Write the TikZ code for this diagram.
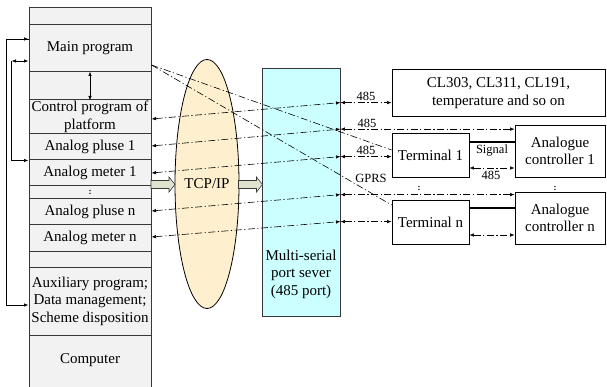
\documentclass[tikz,border=0pt]{standalone}
\usepackage{fontspec}
\setmainfont{Liberation Serif}
\usetikzlibrary{arrows.meta,calc,shapes.geometric}
\definecolor{cellgray}{RGB}{242,242,242}
\definecolor{cellline}{RGB}{55,55,55}
\definecolor{tcpfill}{RGB}{254,240,206}
\definecolor{msfill}{RGB}{204,255,255}
\definecolor{fatfill}{RGB}{221,227,204}
\begin{document}
\begin{tikzpicture}[x=1pt,y=-1pt,
  >={Latex[length=4.5pt,width=3.5pt]},
  every node/.style={font=\fontsize{15}{17.5}\selectfont, inner sep=0pt, align=center},
  cell/.style={draw=cellline, fill=cellgray, line width=1pt, minimum width=122pt},
  rbox/.style={draw=black, line width=0.8pt, fill=white},
  lbl/.style={font=\fontsize{12.5}{14}\selectfont},
  dotmark/.style={font=\fontsize{9}{9}\selectfont\bfseries},
  dd/.style={line width=0.6pt, dash pattern=on 7pt off 2.5pt on 1.2pt off 2.5pt},
  solidarr/.style={line width=0.7pt},
  thickline/.style={line width=2.2pt},
  fatarr/.style={draw=cellline, fill=fatfill, line width=0.6pt}
]
\useasboundingbox (0,0) rectangle (607,387);

% ---- left column ----
\node[cell, minimum height=17pt] (top) at (90,16.5) {};
\node[cell, minimum height=47pt] (main) at (90,48.5) {Main program};
\node[cell, minimum height=28pt] (gapa) at (90,86) {};
\node[cell, minimum height=34pt] (ctrl) at (90,117) {Control program of\\platform};
\node[cell, minimum height=26pt] (p1) at (90,147) {Analog pluse 1};
\node[cell, minimum height=26pt] (m1) at (90,173) {Analog meter 1};
\node[cell, minimum height=13pt, dotmark] (dots) at (90,192.5) {:};
\node[cell, minimum height=26pt] (pn) at (90,212) {Analog pluse n};
\node[cell, minimum height=26pt] (mn) at (90,238) {Analog meter n};
\node[cell, minimum height=16pt] (gapb) at (90,259) {};
\node[cell, minimum height=68pt] (aux) at (90,301) {Auxiliary program;\\Data management;\\Scheme disposition};
\node[cell, minimum height=60pt] (comp) at (90,365) {};
\node (comptext) at (90,360) {Computer};

% vertical double arrow between main and control
\draw[solidarr,<->] (gapa.north) -- (gapa.south);

% feedback loops on the left
\coordinate (oa) at ($(main.west)+(0,-9.5)$);
\coordinate (ob) at ($(aux.west)+(0,4)$);
\draw[solidarr,->] (oa) -- ++(-22,0) |- (ob);
\draw[solidarr,->] (oa) ++(-22,0) -- (oa);
\coordinate (ia) at ($(main.west)+(0,12.5)$);
\coordinate (ic) at ($(ia)+(-17,0)$);
\draw[solidarr,<->] (ic) -- (ia);
\draw[solidarr,->] (ic) |- (p1.south west);

% ---- TCP/IP ellipse ----
\node[ellipse, draw=black, fill=tcpfill, line width=0.8pt, minimum width=64pt, minimum height=249pt] (tcp) at (207,184) {};
\node (tcptext) at (207,183.5) {TCP/IP};

% ---- multi-serial port server ----
\node[draw=cellline, fill=msfill, line width=0.8pt, minimum width=78pt, minimum height=248pt] (ms) at (301,192) {};
\node (mstext) at (301,274) {Multi-serial\\port sever\\(485 port)};

% fat arrows
\coordinate (fa) at (151,184.5);
\coordinate (fb) at (238.5,184.5);
\filldraw[fatarr] (fa) ++(0,-4) -- ++(18,0) -- ++(0,-3.5) -- ++(6,7.5) -- ++(-6,7.5) -- ++(0,-3.5) -- ++(-18,0) -- cycle;
\filldraw[fatarr] (fb) ++(0,-4) -- ++(18,0) -- ++(0,-3.5) -- ++(6,7.5) -- ++(-6,7.5) -- ++(0,-3.5) -- ++(-18,0) -- cycle;

% ---- right boxes ----
\node[rbox, minimum width=213pt, minimum height=47pt] (cl) at (498.5,92.5) {};
\node (cltext) at (498.5,93) {CL303, CL311, CL191,\\temperature and so on};
\node[rbox, minimum width=77pt, minimum height=44pt] (t1) at (430.5,155) {Terminal 1};
\node[rbox, minimum width=90pt, minimum height=52pt] (a1) at (560,151) {Analogue\\controller 1};
\node[rbox, minimum width=77pt, minimum height=44pt] (tn) at (430.5,222) {Terminal n};
\node[rbox, minimum width=90pt, minimum height=52pt] (an) at (560,218) {Analogue\\controller n};

% terminal <-> controller
\draw[thickline] ($(t1.east)+(0,-13)$) -- ($(a1.west)+(0,-9)$);
\node[lbl] (sig) at (492,151) {Signal};
\draw[dd,<->] ($(t1.east)+(0,13)$) -- ($(a1.west)+(0,17)$);
\node[lbl] (l485d) at (491,175) {485};
\draw[thickline] ($(tn.east)+(0,-14)$) -- ($(an.west)+(0,-10)$);
\draw[dd,<->] ($(tn.east)+(0,13)$) -- ($(an.west)+(0,17)$);

% dots
\node[dotmark] (dotsa) at (419,188) {:};
\node[dotmark] (dotsb) at (555,188) {:};

% ---- server right side links ----
\coordinate (s1) at ($(ms.north east)+(0,35)$);
\coordinate (s2) at ($(ms.north east)+(0,61.5)$);
\coordinate (s3) at ($(ms.north east)+(0,89)$);
\coordinate (s4) at ($(ms.north east)+(0,127)$);
\coordinate (s5) at ($(ms.north east)+(0,154)$);
\draw[dd,<->] (s1) -- (s1 -| cl.west);
\draw[dd,<->] (s2) -- (s2 -| a1.west);
\draw[dd,<->] (s3) -- (s3 -| t1.west);
\draw[dd,<->] (s4) -- (s4 -| an.west);
\draw[dd,<->] (s5) -- (s5 -| tn.west);
\node[lbl] (l485a) at (366,96) {485};
\node[lbl] (l485b) at (367,123) {485};
\node[lbl] (l485c) at (366,150) {485};
\node[lbl] (gprs) at (371,178) {GPRS};

% ---- computer to server links ----
\draw[dd,<->] ($(ctrl.east)+(0,2)$) -- (s1);
\draw[dd,<->] ($(p1.east)+(0,-1)$) -- (s2);
\draw[dd,<->] (m1.east) -- (s3);
\draw[dd,<->] ($(pn.east)+(0,-1)$) -- (s4);
\draw[dd,<->] ($(mn.east)+(0,-1)$) -- (s5);

% ---- GPRS lines from main program ----
\coordinate (g0) at ($(main.east)+(0,16.5)$);
\draw[dd] (g0) -- ($(t1.west)+(0,-5)$);
\draw[dd] (g0) -- ($(tn.west)+(0,-17)$);
\end{tikzpicture}
\end{document}
